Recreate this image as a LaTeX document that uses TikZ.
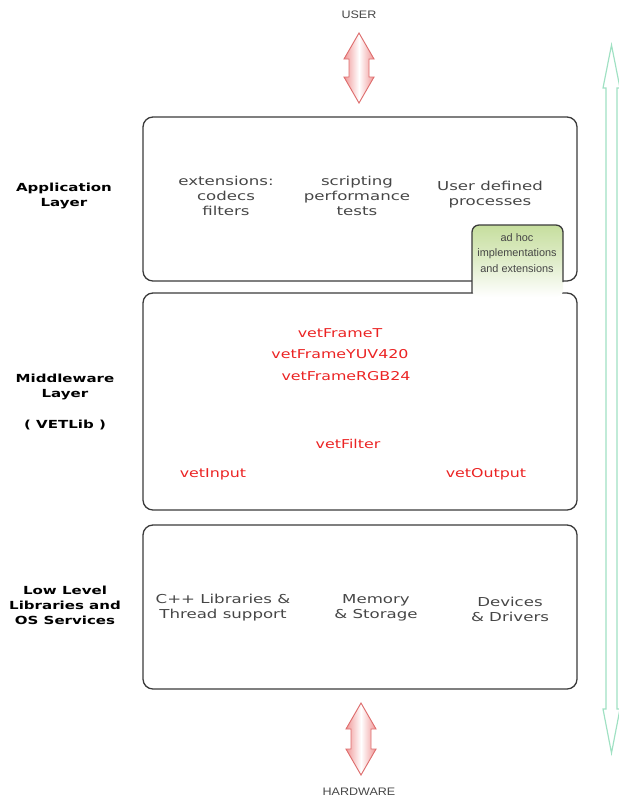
\documentclass[tikz,border=0pt]{standalone}
\usepackage{fontspec}
\setmainfont{Liberation Sans}
\newfontfamily\eurofont[FakeStretch=1.35]{DejaVu Sans}
\newfontfamily\vetfont[FakeStretch=1.3]{DejaVu Sans}
\newfontfamily\capsfont[FakeStretch=1.15]{Liberation Sans}
\definecolor{boxgray}{RGB}{58,58,58}
\definecolor{textgray}{RGB}{70,70,70}
\definecolor{vetred}{RGB}{235,35,35}
\definecolor{tabgreen}{RGB}{198,222,158}
\definecolor{pinkfill}{RGB}{240,150,150}
\definecolor{pinkedge}{RGB}{222,110,110}
\definecolor{mint}{RGB}{160,225,195}
\tikzset{
  layerbox/.style={draw=boxgray, line width=1.1pt, rounded corners=8.5pt},
  boxtext/.style={font=\eurofont\fontsize{10.5}{12.8}\selectfont, text=textgray, align=center},
  sidetext/.style={font=\eurofont\bfseries\fontsize{9.5}{12.8}\selectfont, align=center},
  vettext/.style={font=\vetfont\fontsize{10.4}{12}\selectfont, text=vetred},
  endtext/.style={font=\capsfont\fontsize{9.3}{11}\selectfont, text=textgray},
}
\begin{document}
\begin{tikzpicture}[x=0.03cm, y=-0.03cm]
    \useasboundingbox (0,0) rectangle (619,798);
    % Layers
    \draw[layerbox] (143,117) rectangle (577,281);
    \draw[layerbox] (143,293) rectangle (577,510);
    \draw[layerbox] (143,525) rectangle (577,689);
    % Ad hoc tab over the first two layers
    \shade[top color=tabgreen, bottom color=white, middle color=tabgreen!55, rounded corners=6pt]
         (472,297) -- (472,225) -- (563,225) -- (563,297) -- cycle;
    \draw[draw=boxgray, line width=1.1pt, rounded corners=6pt]
         (472,293) -- (472,225) -- (563,225) -- (563,282);
    \node[font=\fontsize{9.3}{13}\selectfont, text=textgray, align=center] (adhoc) at (517,253)
         {ad hoc\\implementations\\and extensions};
    % User / hardware arrows
    \foreach \cx/\ya/\yb in {359/33/103, 361/703/775}
      \shadedraw[left color=pinkfill, right color=pinkfill, middle color=white, draw=pinkedge, line width=0.8pt]
         (\cx,\ya) -- (\cx+15,\ya+26) -- (\cx+10,\ya+26) -- (\cx+10,\yb-26) -- (\cx+15,\yb-26)
         -- (\cx,\yb) -- (\cx-15,\yb-26) -- (\cx-10,\yb-26) -- (\cx-10,\ya+26) -- (\cx-15,\ya+26) -- cycle;
    \node[endtext] (user) at (359,15) {USER};
    \node[endtext] (hardware) at (359,792) {HARDWARE};
    % Side double arrow
    \draw[draw=mint, line width=1pt]
         (611.5,45) -- (620,88) -- (617,88) -- (617,709) -- (620,709) -- (611.5,753)
         -- (603,709) -- (606,709) -- (606,88) -- (603,88) -- cycle;
    % Layer names
    \node[sidetext] (applabel) at (64,196) {Application\\Layer};
    \node[sidetext] (midlabel) at (65,387) {Middleware\\Layer};
    \node[sidetext] (vetlib) at (65,425) {( VETLib )};
    \node[sidetext] (lowlabel) at (65,605) {Low Level\\Libraries and\\OS Services};
    % Application layer
    \node[boxtext] (ext) at (226,196) {extensions:\\codecs\\filters};
    \node[boxtext] (script) at (357,196) {scripting\\performance\\tests};
    \node[boxtext] (userproc) at (490,195) {User defined\\processes};
    % Middleware layer
    \node[vettext] (frame) at (340,333) {vetFrameT};
    \node[vettext] (yuv) at (340,354) {vetFrameYUV420};
    \node[vettext] (rgb) at (346,376) {vetFrameRGB24};
    \node[vettext] (filter) at (348,444) {vetFilter};
    \node[vettext] (input) at (213,474) {vetInput};
    \node[vettext] (output) at (486,474) {vetOutput};
    % Low level layer
    \node[boxtext] (cpp) at (223,608) {C++ Libraries \&\\Thread support};
    \node[boxtext] (memory) at (376,608) {Memory\\\& Storage};
    \node[boxtext] (devices) at (510,609) {Devices\\\& Drivers};
\end{tikzpicture}
\end{document}
